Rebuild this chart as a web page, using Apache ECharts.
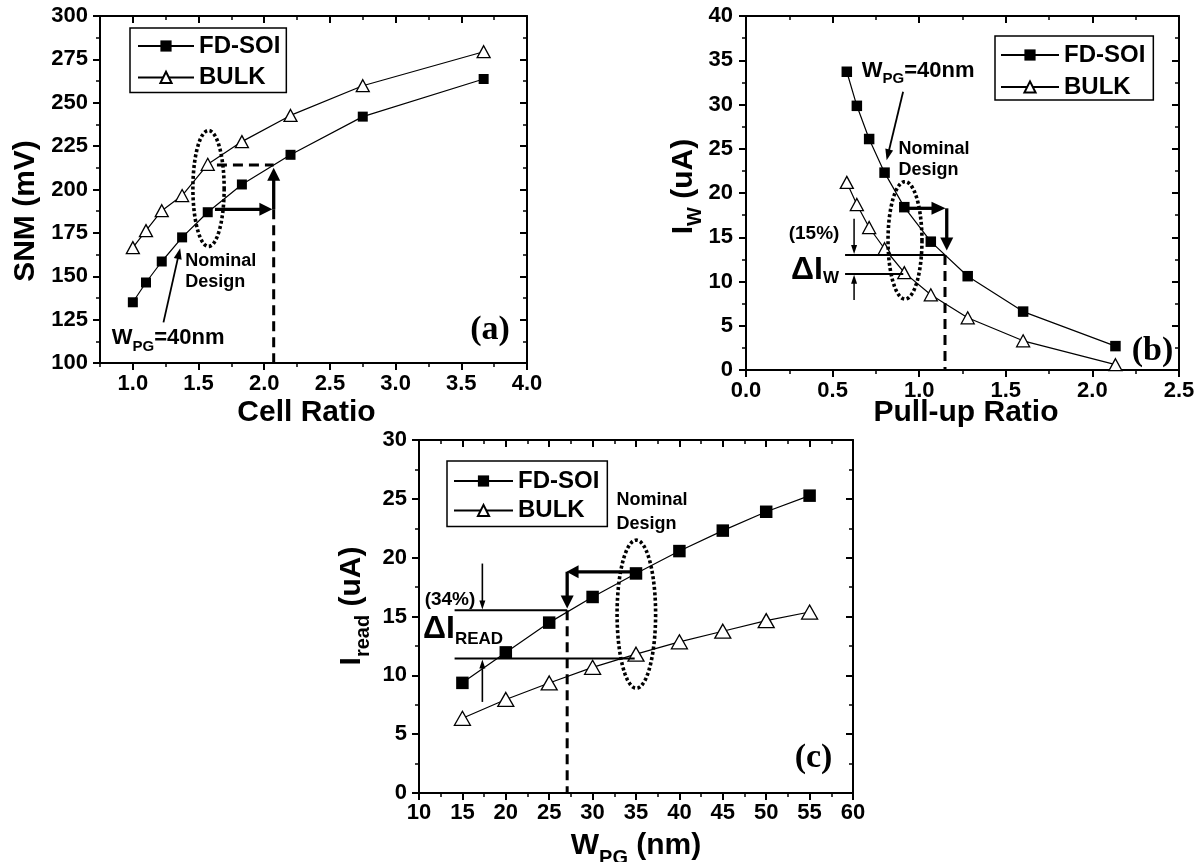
<!DOCTYPE html>
<html><head><meta charset="utf-8">
<script src="https://cdn.jsdelivr.net/npm/echarts@6/dist/echarts.min.js"></script>
<style>html,body{margin:0;padding:0;background:#fff}#c{width:1202px;height:862px}</style>
</head><body><div id="c"></div>
<script>
// ---------------- data ----------------
const cellRatio   = [1.0, 1.1, 1.22, 1.375, 1.57, 1.83, 2.2, 2.75, 3.67];
const snmFDSOI    = [135, 146.4, 158.5, 172.4, 186.9, 202.9, 220, 242, 263.7];
const snmBULK     = [166.5, 176.3, 187.8, 196.5, 214.5, 227.6, 242.7, 259.8, 279.4];

const pullUpRatio = [0.582, 0.64, 0.711, 0.8, 0.914, 1.067, 1.28, 1.6, 2.133];
const iwFDSOI     = [33.7, 29.85, 26.1, 22.3, 18.4, 14.5, 10.6, 6.6, 2.7];
const iwBULK      = [21.2, 18.7, 16.1, 13.7, 11.0, 8.5, 5.9, 3.3, 0.6];

const wpg         = [15, 20, 25, 30, 35, 40, 45, 50, 55];
const ireadFDSOI  = [9.36, 11.95, 14.48, 16.66, 18.66, 20.56, 22.3, 23.9, 25.27];
const ireadBULK   = [6.35, 7.95, 9.35, 10.68, 11.8, 12.85, 13.75, 14.65, 15.38];

const seriesNames = ['FD-SOI', 'BULK'];
const xLabelsA = [1.0, 1.5, 2.0, 2.5, 3.0, 3.5, 4.0];

// ---------------- helpers ----------------
const FONT = '"Liberation Sans", Arial, sans-serif';
const SERIF = '"Liberation Serif", "Times New Roman", serif';
const meas = document.createElement('canvas').getContext('2d');
function tw(s, size, fam) { meas.font = 'bold ' + size + 'px ' + fam; return meas.measureText(s).width; }
function textParts(parts, x, y, align) {
  let w = 0;
  const ws = parts.map(p => { const v = tw(p.s, p.size, p.serif ? SERIF : FONT); w += v; return v; });
  let cx = align === 'center' ? x - w / 2 : x;
  return parts.map((p, i) => {
    const el = { type: 'text', x: cx, y: y + (p.dy || 0),
      style: { text: p.s, fontSize: p.size, fontWeight: 'bold', fontFamily: p.serif ? SERIF : FONT,
               fill: '#000', align: 'left', verticalAlign: 'middle' } };
    cx += ws[i];
    return el;
  });
}
function axisSet(dim, gi, min, max, major, minor, fmt, margin, customMajor) {
  const pos = dim === 'x' ? ['bottom', 'top'] : ['left', 'right'];
  const out = [];
  pos.forEach((p, k) => {
    const inside = k === 1;
    const main = {
      type: 'value', gridIndex: gi, min, max, position: p, silent: true,
      interval: customMajor ? minor : major,
      splitLine: { show: false },
      axisLine: { show: true, onZero: false, lineStyle: { color: '#000', width: 2 } },
      axisTick: { show: true, inside, length: 7, lineStyle: { color: '#000', width: 2 } },
      axisLabel: inside ? { show: false } :
        { show: true, margin, color: '#000', fontSize: 22, fontWeight: 'bold', fontFamily: FONT, formatter: fmt }
    };
    if (customMajor) {
      main.axisTick.customValues = customMajor;
      if (!inside) main.axisLabel.customValues = customMajor;
    }
    const mn = {
      type: 'value', gridIndex: gi, min, max, position: p, silent: true, interval: minor,
      splitLine: { show: false },
      axisLine: { show: false, onZero: false },
      axisTick: { show: true, inside, length: 4, lineStyle: { color: '#000', width: 1.5 } },
      axisLabel: { show: false }
    };
    out.push(main, mn);
  });
  return out;
}
function annotRenderer(spec) {
  return function (params, api) {
    const ch = [];
    const P = v => api.coord(v);
    (spec.ellipses || []).forEach(e => {
      const c = P(e.c), ex = P([e.c[0] + e.r[0], e.c[1]]), ey = P([e.c[0], e.c[1] + e.r[1]]);
      const rx = Math.abs(ex[0] - c[0]), ry = Math.abs(ey[1] - c[1]);
      const pts = [];
      for (let k = 0; k <= 160; k++) { const th = k / 160 * 2 * Math.PI; pts.push([c[0] + rx * Math.cos(th), c[1] + ry * Math.sin(th)]); }
      ch.push({ type: 'polyline', shape: { points: pts }, style: { stroke: '#000', fill: null, lineWidth: 3.6, lineDash: [3, 2.4] } });
    });
    (spec.dashed || []).forEach(d => {
      const a = P(d[0]), b = P(d[1]);
      ch.push({ type: 'line', shape: { x1: a[0], y1: a[1], x2: b[0], y2: b[1] }, style: { stroke: '#000', lineWidth: 3, lineDash: [10, 6] } });
    });
    (spec.lines || []).forEach(d => {
      const a = P(d[0]), b = P(d[1]);
      ch.push({ type: 'line', shape: { x1: a[0], y1: a[1], x2: b[0], y2: b[1] }, style: { stroke: '#000', lineWidth: 2 } });
    });
    (spec.arrows || []).forEach(ar => {
      const a = P(ar.from), b = P(ar.to);
      const dx = b[0] - a[0], dy = b[1] - a[1], L = Math.hypot(dx, dy), ux = dx / L, uy = dy / L;
      const hl = ar.head[0], hw = ar.head[1] / 2;
      const bx = b[0] - ux * hl, by = b[1] - uy * hl;
      ch.push({ type: 'line', shape: { x1: a[0], y1: a[1], x2: bx + ux, y2: by + uy }, style: { stroke: '#000', lineWidth: ar.w } });
      ch.push({ type: 'polygon', shape: { points: [[b[0], b[1]], [bx - uy * hw, by + ux * hw], [bx + uy * hw, by - ux * hw]] }, style: { fill: '#000' } });
    });
    (spec.texts || []).forEach(t => { const p = P(t.at); textParts(t.parts, p[0], p[1], t.align).forEach(e => ch.push(e)); });
    return { type: 'group', children: ch };
  };
}
function title(parts, cx, cy, vertical) {
  return { type: 'group', x: cx, y: cy, rotation: vertical ? Math.PI / 2 : 0, children: textParts(parts, 0, 0, 'center') };
}

// ---------------- annotations (data coordinates) ----------------
const nominal = (x, y1, y2) => [
  { at: [x, y1], parts: [{ s: 'Nominal', size: 18 }] },
  { at: [x, y2], parts: [{ s: 'Design', size: 18 }] }];
const wpgText = at => ({ at, parts: [{ s: 'W', size: 22 }, { s: 'PG', size: 15, dy: 8 }, { s: '=40nm', size: 22 }] });

const annotA = {
  ellipses: [{ c: [1.576, 200.6], r: [0.119, 33.4] }],
  dashed: [[[1.64, 214.1], [2.072, 214.1]], [[2.072, 188.6], [2.072, 100]]],
  arrows: [
    { from: [1.625, 188.6], to: [2.062, 188.6], w: 3.3, head: [13, 13] },
    { from: [2.072, 188.6], to: [2.072, 212.5], w: 3.3, head: [13, 13] },
    { from: [1.233, 123.4], to: [1.36, 166.2], w: 1.8, head: [11, 8] }],
  texts: [...nominal(1.398, 158.8, 146.5), wpgText([0.839, 114.2]),
    { at: [3.718, 118.7], align: 'center', parts: [{ s: '(a)', size: 34, serif: true }] }]
};
const annotB = {
  ellipses: [{ c: [0.918, 14.65], r: [0.098, 6.63] }],
  dashed: [[[1.149, 12.99], [1.149, 0]]],
  lines: [[[0.572, 12.99], [1.149, 12.99]], [[0.572, 10.85], [0.908, 10.85]]],
  arrows: [
    { from: [0.907, 31.44], to: [0.812, 23.7], w: 1.8, head: [11, 8] },
    { from: [0.937, 18.27], to: [1.152, 18.27], w: 3.3, head: [14, 13] },
    { from: [1.159, 18.27], to: [1.159, 13.5], w: 3.3, head: [13, 13] },
    { from: [0.624, 17.1], to: [0.624, 13.1], w: 1.5, head: [9, 6] },
    { from: [0.624, 7.9], to: [0.624, 10.75], w: 1.5, head: [9, 6] }],
  texts: [...nominal(0.88, 24.97, 22.6), wpgText([0.668, 33.8]),
    { at: [0.393, 15.42], align: 'center', parts: [{ s: '(15%)', size: 19 }] },
    { at: [0.26, 11.3], parts: [{ s: 'ΔI', size: 32 }, { s: 'W', size: 17, dy: 8 }] },
    { at: [2.347, 2.15], align: 'center', parts: [{ s: '(b)', size: 34, serif: true }] }]
};
const annotC = {
  ellipses: [{ c: [35.04, 15.2], r: [2.22, 6.29] }],
  dashed: [[[27.07, 15.54], [27.07, 0]]],
  lines: [[[14.1, 15.54], [27.07, 15.54]], [[14.1, 11.43], [34.85, 11.43]]],
  arrows: [
    { from: [34.6, 18.8], to: [27.0, 18.8], w: 3.3, head: [12, 13] },
    { from: [27.07, 18.8], to: [27.07, 15.68], w: 3.3, head: [13, 13] },
    { from: [17.3, 19.5], to: [17.3, 15.6], w: 1.6, head: [9, 6] },
    { from: [17.3, 7.74], to: [17.3, 11.35], w: 1.6, head: [9, 6] }],
  texts: [...nominal(32.75, 24.9, 22.9),
    { at: [13.57, 16.4], align: 'center', parts: [{ s: '(34%)', size: 19 }] },
    { at: [10.46, 13.93], parts: [{ s: 'ΔI', size: 32 }, { s: 'READ', size: 17, dy: 10 }] },
    { at: [55.45, 2.95], align: 'center', parts: [{ s: '(c)', size: 34, serif: true }] }]
};

// ---------------- option ----------------
const zip = (a, b) => a.map((v, i) => [v, b[i]]);
const f1 = v => Number(v).toFixed(1);
const f0 = v => String(Math.round(v));

function pairSeries(gi, xs, fd, bk, sq, tri) {
  return [
    { name: seriesNames[0], type: 'line', xAxisIndex: gi * 4, yAxisIndex: gi * 4, data: zip(xs, fd),
      symbol: 'rect', symbolSize: sq, itemStyle: { color: '#000' }, lineStyle: { color: '#000', width: 1.2 }, z: 2 },
    { name: seriesNames[1], type: 'line', xAxisIndex: gi * 4, yAxisIndex: gi * 4, data: zip(xs, bk),
      symbol: 'triangle', symbolSize: tri, itemStyle: { color: '#fff', borderColor: '#000', borderWidth: 1.3 },
      lineStyle: { color: '#000', width: 1.2 }, z: 2 }
  ];
}
function annotSeries(gi, spec, x0, y0) {
  return { type: 'custom', xAxisIndex: gi * 4, yAxisIndex: gi * 4, renderItem: annotRenderer(spec),
    data: [[x0, y0]], silent: true, z: 4, clip: false };
}
const legendBase = {
  data: seriesNames, orient: 'vertical', selectedMode: false, itemHeight: 14,
  borderColor: '#000', borderWidth: 1.5, backgroundColor: '#fff',
  textStyle: { fontSize: 24, fontWeight: 'bold', color: '#000', fontFamily: FONT }
};

const option = {
  animation: false,
  backgroundColor: '#fff',
  grid: [
    { left: 100, top: 16, width: 427, height: 347, outerBoundsMode: 'none' },
    { left: 746, top: 16, width: 433, height: 354, outerBoundsMode: 'none' },
    { left: 419, top: 440, width: 434, height: 353, outerBoundsMode: 'none' }
  ],
  xAxis: [
    ...axisSet('x', 0, 0.75, 4.0, 0.5, 0.25, f1, 10, xLabelsA),
    ...axisSet('x', 1, 0, 2.5, 0.5, 0.25, f1, 10),
    ...axisSet('x', 2, 10, 60, 5, 2.5, f0, 9)
  ],
  yAxis: [
    ...axisSet('y', 0, 100, 300, 25, 12.5, f0, 12),
    ...axisSet('y', 1, 0, 40, 5, 2.5, f0, 13),
    ...axisSet('y', 2, 0, 30, 5, 2.5, f0, 12)
  ],
  legend: [
    Object.assign({}, legendBase, { left: 130, top: 28, padding: [6, 6, 3, 7], itemGap: 7.4, itemWidth: 56 }),
    Object.assign({}, legendBase, { left: 995, top: 36, padding: [7, 8, 1, 5], itemGap: 8, itemWidth: 58 }),
    Object.assign({}, legendBase, { left: 447, top: 461, padding: [8, 8, 4, 6], itemGap: 5.5, itemWidth: 59 })
  ],
  series: [
    ...pairSeries(0, cellRatio, snmFDSOI, snmBULK, 10, [13, 12]),
    ...pairSeries(1, pullUpRatio, iwFDSOI, iwBULK, 10.5, [13, 12]),
    ...pairSeries(2, wpg, ireadFDSOI, ireadBULK, 12.5, [16, 14]),
    annotSeries(0, annotA, 0.75, 100),
    annotSeries(1, annotB, 0, 0),
    annotSeries(2, annotC, 10, 0)
  ],
  graphic: [
    title([{ s: 'Cell Ratio', size: 30 }], 306.5, 412.5, false),
    title([{ s: 'SNM (mV)', size: 30 }], 26, 211, true),
    title([{ s: 'Pull-up Ratio', size: 30 }], 966, 413, false),
    title([{ s: 'I', size: 30 }, { s: 'W', size: 20, dy: 12 }, { s: ' (uA)', size: 30 }], 683.5, 186.5, true),
    title([{ s: 'W', size: 30 }, { s: 'PG', size: 20, dy: 12 }, { s: ' (nm)', size: 30 }], 636, 846, false),
    title([{ s: 'I', size: 30 }, { s: 'read', size: 20, dy: 12 }, { s: ' (uA)', size: 30 }], 351.5, 606, true)
  ]
};
const chart = echarts.init(document.getElementById('c'), null, { renderer: 'canvas' });
chart.setOption(option);
</script>
</body></html>
